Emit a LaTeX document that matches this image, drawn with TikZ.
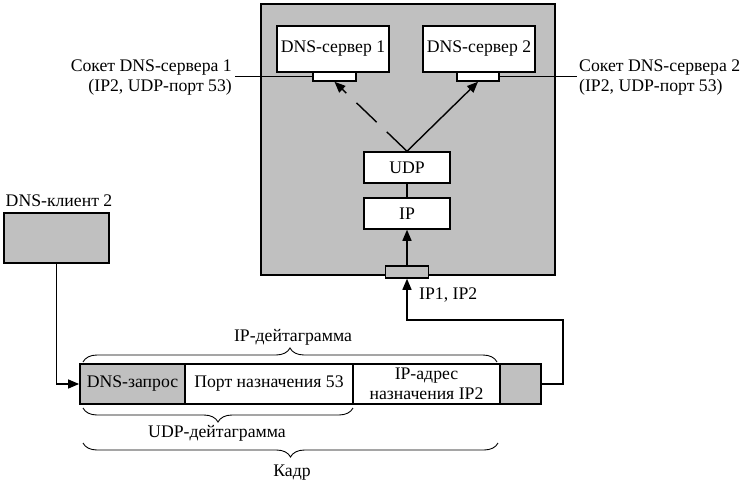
\documentclass[tikz,border=0pt]{standalone}
\usepackage{fontspec}
\setmainfont{Liberation Serif}
\usetikzlibrary{arrows.meta,decorations.pathreplacing}
\definecolor{gr}{RGB}{192,192,192}
\begin{document}
\begin{tikzpicture}[x=1pt,y=-1pt,
  font=\fontsize{17.7}{20.5}\selectfont,
  box/.style={draw,line width=1.5pt,fill=white,inner sep=0pt},
  gbox/.style={draw,line width=1.5pt,fill=gr,inner sep=0pt},
  lbl/.style={inner sep=0pt,align=center},
  conn/.style={line width=1.4pt},
  arr/.style={conn,-{Triangle[length=11pt,width=9pt]}},
  brc/.style={decorate,decoration={brace,amplitude=14pt},line width=0.9pt}]
\useasboundingbox (0,0) rectangle (748,488);

% host
\node[gbox,line width=2pt,minimum width=294pt,minimum height=271pt] (host) at (408,139.5) {};
\node[box,minimum width=112pt,minimum height=46pt] (s1) at (333,49) {DNS-сервер 1};
\node[box,minimum width=112pt,minimum height=46pt] (s2) at (479,49) {DNS-сервер 2};
\node[box,minimum width=43pt,minimum height=9pt] (sock1) at (334.5,76.5) {};
\node[box,minimum width=42pt,minimum height=9pt] (sock2) at (478,76.5) {};
\node[box,minimum width=86pt,minimum height=31pt] (udp) at (407,167.5) {UDP};
\node[box,minimum width=86pt,minimum height=31pt] (ip) at (407,213.5) {IP};
\node[gbox,minimum width=43pt,minimum height=12pt] (hsock) at (407,272) {};

% socket labels
\node[lbl,align=right,anchor=east] (l1) at (232,77.5) {Сокет DNS-сервера 1\\(IP2, UDP-порт 53)};
\node[lbl,align=left,anchor=west] (l2) at (579,77.5) {Сокет DNS-сервера 2\\(IP2, UDP-порт 53)};
\draw[conn] (sock1.west) -- ([xshift=3pt]l1.east |- sock1.west);
\draw[conn] (sock2.east) -- ([xshift=-2pt]l2.west |- sock2.east);

\draw[arr,dash pattern=on 28pt off 14pt] (udp.north) -- (sock1.south);
\draw[arr] (udp.north) -- (sock2.south);
\draw[conn] (udp.south) -- (ip.north);
\draw[arr] (hsock.north) -- (ip.south);

% client
\node[lbl] (cll) at (59,201) {DNS-клиент 2};
\node[gbox,minimum width=105pt,minimum height=50pt] (cl) at (56.5,238) {};

% frame
\node[gbox,line width=1.8pt,minimum width=105pt,minimum height=40pt] (c1) at (132.5,384) {DNS-запрос};
\node[box,line width=1.8pt,minimum width=168pt,minimum height=40pt] (c2) at (269,384) {Порт назначения 53};
\node[box,line width=1.8pt,minimum width=147pt,minimum height=40pt,align=center] (c3) at (426.5,384) {IP-адрес\\назначения IP2};
\node[gbox,line width=1.8pt,minimum width=41pt,minimum height=40pt] (c4) at (520.5,384) {};

\draw[arr] (cl.south) |- (c1.west);
\coordinate (r1) at (563,320);
\draw[arr] (c4.east) -| (r1) -| (hsock.south);
\node[lbl,anchor=west] (ipl) at (419,295) {IP1, IP2};

% braces
\coordinate (b1a) at (83,362);
\coordinate (b1b) at (497,362);
\draw[brc] (b1a) -- (b1b);
\node[lbl] (ipd) at (293,337) {IP-дейтаграмма};
\coordinate (b2a) at (83,408);
\coordinate (b2b) at (353,408);
\draw[brc] (b2b) -- (b2a);
\node[lbl] (udpd) at (217,433) {UDP-дейтаграмма};
\coordinate (b3a) at (83,443);
\coordinate (b3b) at (498,443);
\draw[brc] (b3b) -- (b3a);
\node[lbl] (kadr) at (292,473) {Кадр};
\end{tikzpicture}
\end{document}
